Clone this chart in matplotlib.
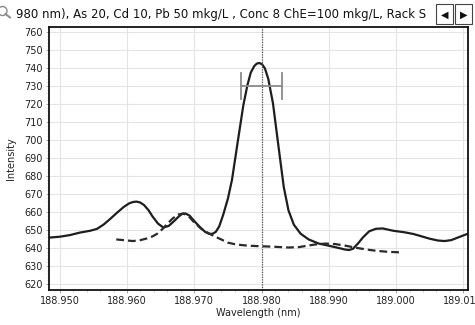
import numpy as np
import matplotlib
matplotlib.use('Agg')
import matplotlib.pyplot as plt
from matplotlib.patches import Rectangle, Ellipse
from matplotlib.lines import Line2D

# sample spectrum (solid)
wl_sample = [188.9484, 188.9500, 188.9515, 188.9530, 188.9545, 188.9555, 188.9565,
             188.9575, 188.9585, 188.9595, 188.9603, 188.9609, 188.9614, 188.9619,
             188.9625, 188.9632, 188.9638, 188.9646, 188.9654, 188.9662, 188.9670,
             188.9677, 188.9682, 188.9687, 188.9693, 188.9700, 188.9708, 188.9716,
             188.9722, 188.9727, 188.9732, 188.9737, 188.9743, 188.9750, 188.9756,
             188.9765, 188.9773, 188.9779, 188.9784, 188.9789, 188.9793, 188.9797,
             188.9801, 188.9805, 188.9810, 188.9817, 188.9825, 188.9833, 188.9840,
             188.9848, 188.9858, 188.9870, 188.9885, 188.9900, 188.9915, 188.9924,
             188.9930, 188.9936, 188.9944, 188.9951, 188.9960, 188.9970, 188.9980,
             188.9996, 189.0012, 189.0026, 189.0038, 189.0050, 189.0062, 189.0072,
             189.0082, 189.0093, 189.0107]
int_sample = [645.8, 646.3, 647.2, 648.6, 649.6, 650.6, 653.0,
              656.2, 659.6, 662.8, 664.8, 665.6, 665.8, 665.4,
              664.0, 661.0, 657.5, 653.6, 651.4, 652.3, 655.0,
              657.6, 659.0, 659.2, 658.0, 655.0, 651.8, 649.0,
              647.9, 647.9, 649.0, 652.0, 658.5, 667.5, 677.8,
              700.0, 719.5, 730.5, 737.5, 741.0, 742.5, 742.8,
              742.0, 739.8, 734.0, 720.4, 697.0, 674.0, 661.0,
              653.0, 648.0, 644.8, 642.5, 641.3, 640.0, 639.2,
              638.9, 639.6, 642.8, 646.0, 649.3, 650.7, 650.9,
              649.6, 648.8, 647.8, 646.5, 645.2, 644.2, 643.9,
              644.4, 646.0, 648.0]

# blank / background (dashed)
wl_blank = [188.9584, 188.9597, 188.9609, 188.9620, 188.9630, 188.9638, 188.9645,
            188.9652, 188.9660, 188.9668, 188.9676, 188.9684, 188.9692, 188.9700,
            188.9710, 188.9720, 188.9730, 188.9740, 188.9750, 188.9762, 188.9780,
            188.9800, 188.9820, 188.9840, 188.9855, 188.9868, 188.9880, 188.9895,
            188.9910, 188.9925, 188.9940, 188.9956, 188.9970, 188.9985, 189.0006]
int_blank = [644.8, 644.3, 643.9, 644.4, 645.4, 646.5, 648.0,
             650.3, 653.5, 656.5, 658.6, 659.2, 657.5, 654.2,
             650.8, 648.5, 646.5, 644.8, 643.0, 642.0, 641.3,
             641.0, 640.7, 640.3, 640.5, 641.3, 642.0, 642.5,
             642.2, 641.3, 640.2, 639.2, 638.5, 638.0, 637.6]

peak_wl = 188.980
win_left, win_right, win_level, win_cap = 188.9769, 188.9830, 730, 7

xticks = [188.950, 188.960, 188.970, 188.980, 188.990, 189.000, 189.010]
xticklabels = ['188.950', '188.960', '188.970', '188.980', '188.990', '189.000', '189.010']
yticks = list(range(620, 761, 10))

title = '980 nm), As 20, Cd 10, Pb 50 mkg/L , Conc 8 ChE=100 mkg/L, Rack S'

fig = plt.figure(figsize=(4.75, 3.25), dpi=100)
ax = fig.add_axes([0.1032, 0.1077, 0.8821, 0.8092])

ax.plot(wl_sample, int_sample, color='#1e1e1e', lw=1.6, solid_joinstyle='round')
ax.plot(wl_blank, int_blank, color='#2a2a2a', lw=1.6, ls=(0, (3.5, 1.8)))
ax.axvline(peak_wl, color='#555555', lw=0.9, ls=(0, (1, 1)))

# integration window marker
ax.plot([win_left, win_right], [win_level, win_level], color='#8a8a8a', lw=1.3)
ax.plot([win_left, win_left], [win_level - win_cap, win_level + win_cap], color='#8a8a8a', lw=1.3)
ax.plot([win_right, win_right], [win_level - win_cap, win_level + win_cap], color='#8a8a8a', lw=1.3)

ax.set_xlim(188.9484, 189.0107)
ax.set_ylim(616.7, 762.8)
ax.set_xticks(xticks)
ax.set_xticklabels(xticklabels)
ax.set_yticks(yticks)
ax.set_xticks(np.arange(188.950, 189.011, 0.002), minor=True)
ax.set_yticks(np.arange(620, 762, 2), minor=True)
ax.grid(True, which='major', color='#e4e4e4', lw=0.8)
ax.set_axisbelow(True)
ax.tick_params(which='major', length=2.5, width=0.6, color='#999999', labelsize=7, labelcolor='#222222', pad=2)
ax.tick_params(which='minor', length=1.3, width=0.5, color='#bbbbbb')
for s in ax.spines.values():
    s.set_linewidth(1.3)
    s.set_color('#111111')

ax.set_xlabel('Wavelength (nm)', fontsize=7, color='#222222', labelpad=1)
ax.set_ylabel('Intensity', fontsize=7, color='#222222', labelpad=6)

fig.text(0.033, 0.955, title, fontsize=8.5, color='#111111', va='center', ha='left')

# magnifier icon, mostly cut off at the left edge
fig.patches.append(Ellipse((2.5 / 475, 1 - 11 / 325), 9 / 475, 9 / 325, transform=fig.transFigure,
                           facecolor='none', edgecolor='#888888', lw=1.0))
fig.lines.append(Line2D([5.5 / 475, 10 / 475], [1 - 14 / 325, 1 - 17.5 / 325], transform=fig.transFigure,
                        color='#888888', lw=1.4))

# scroll buttons
for bx, glyph in [(0.918, '\u25c0'), (0.958, '\u25b6')]:
    fig.patches.append(Rectangle((bx, 0.925), 0.036, 0.062, transform=fig.transFigure,
                                 facecolor='white', edgecolor='#444444', lw=0.8))
    fig.text(bx + 0.018, 0.956, glyph, fontsize=7, color='#111111', ha='center', va='center')

fig.savefig('out.png', dpi=100)
